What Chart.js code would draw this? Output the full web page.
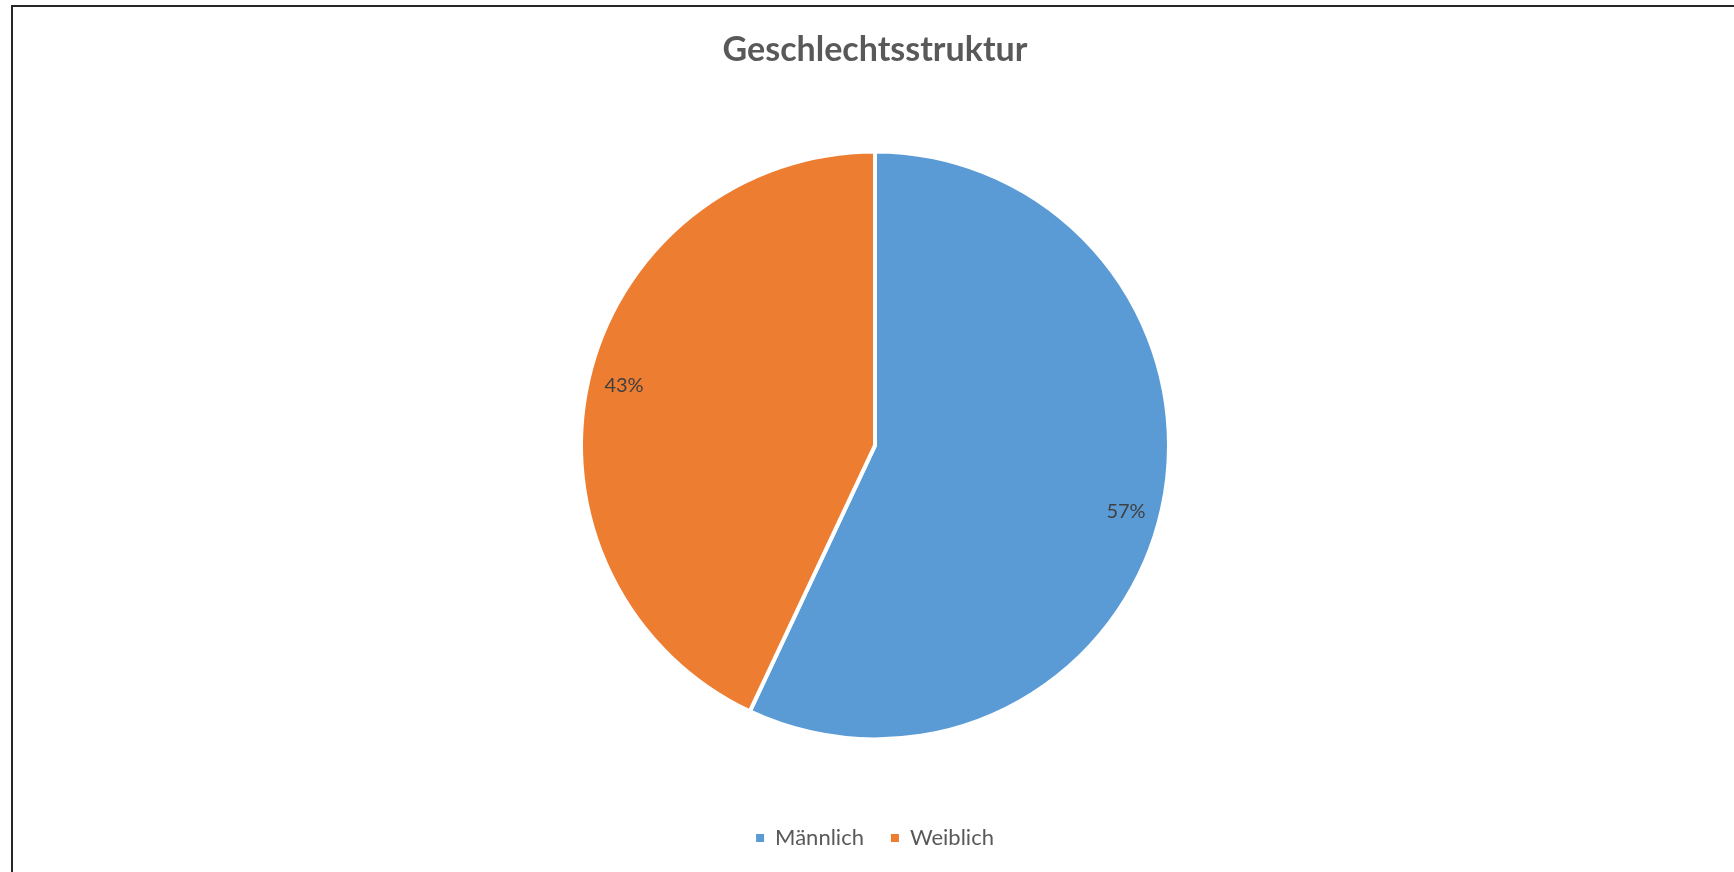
<!DOCTYPE html>
<html>
<head>
<meta charset="utf-8">
<script src="https://cdn.jsdelivr.net/npm/chart.js@4/dist/chart.umd.min.js"></script>
<style>
  html, body { margin: 0; padding: 0; background: #fff; overflow: hidden; }
  #wrap { position: relative; width: 1734px; height: 872px; }
  #frame { position: absolute; left: 11px; top: 5px; width: 2000px; height: 2000px;
           border: 2px solid #262626; pointer-events: none; }
</style>
</head>
<body>
<div id="wrap">
  <canvas id="myChart" width="1734" height="872"></canvas>
  <div id="frame"></div>
</div>
<script>
// data
const categories = ['Männlich', 'Weiblich'];
const shares = [57, 43];
const sliceColors = ['#5B9BD5', '#ED7D31'];

// percent labels inside the slices, near the outer edge
const pieLabels = {
  id: 'pieLabels',
  afterDatasetsDraw(chart, args, opts) {
    const ctx = chart.ctx;
    const meta = chart.getDatasetMeta(0);
    const total = shares.reduce((a, b) => a + b, 0);
    ctx.save();
    ctx.font = opts.font;
    ctx.fillStyle = opts.color;
    ctx.textAlign = 'center';
    ctx.textBaseline = 'middle';
    meta.data.forEach((arc, i) => {
      const p = arc.getProps(['x', 'y', 'startAngle', 'endAngle', 'outerRadius'], true);
      const mid = (p.startAngle + p.endAngle) / 2 + opts.shift;
      const r = p.outerRadius * opts.at;
      const txt = Math.round(shares[i] / total * 100) + '%';
      ctx.fillText(txt, p.x + Math.cos(mid) * r, p.y + Math.sin(mid) * r + opts.dy);
    });
    ctx.restore();
  }
};

var ctx = document.getElementById('myChart').getContext('2d');
var myChart = new Chart(ctx, {
  type: 'pie',
  data: {
    labels: categories,
    datasets: [{
      data: shares,
      backgroundColor: sliceColors,
      borderColor: '#ffffff',
      borderWidth: 4,
      radius: 294
    }]
  },
  plugins: [pieLabels],
  options: {
    responsive: false,
    animation: false,
    layout: { padding: { left: 16, bottom: 13 } },
    plugins: {
      title: {
        display: true,
        text: 'Geschlechtsstruktur',
        color: '#595959',
        font: { family: 'Lato', size: 34, weight: 'bold' },
        padding: { top: 30, bottom: 20 }
      },
      legend: {
        position: 'bottom',
        labels: {
          color: '#595959',
          font: { family: 'Lato', size: 22 },
          boxWidth: 8,
          boxHeight: 8,
          padding: 27,
          generateLabels(chart) {
            const items = Chart.overrides.pie.plugins.legend.labels.generateLabels(chart);
            items.forEach(it => { it.lineWidth = 0; it.strokeStyle = it.fillStyle; });
            return items;
          }
        }
      },
      tooltip: { enabled: false },
      pieLabels: { font: '20px Lato', color: '#404040', at: 0.88, shift: 0.025, dy: 3 }
    }
  }
});
</script>
</body>
</html>
